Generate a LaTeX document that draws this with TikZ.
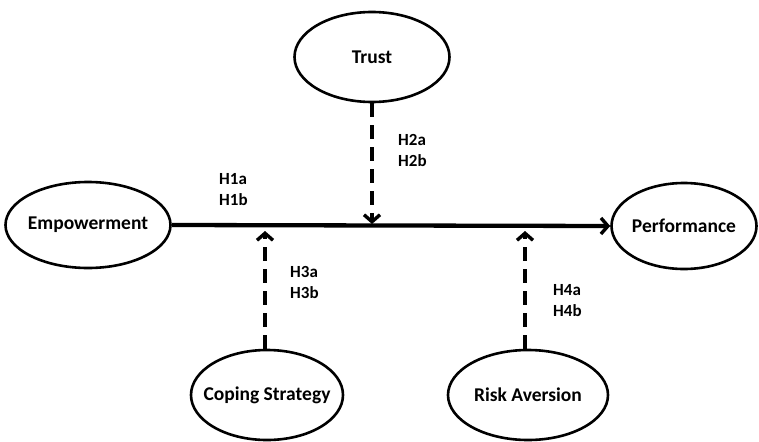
\documentclass[tikz,border=0pt]{standalone}
\usepackage{fontspec}
\setmainfont{Carlito}
\usetikzlibrary{shapes.geometric,arrows.meta}
\begin{document}
\begin{tikzpicture}[x=1pt,y=-1pt,
  construct/.style={draw, line width=2.6pt, ellipse, inner sep=0pt},
  ctext/.style={font=\bfseries\fontsize{19.5}{21}\selectfont, inner sep=0pt},
  hyp/.style={font=\bfseries\fontsize{17}{19}\selectfont, align=left, anchor=north west, inner sep=0pt},
  mainarrow/.style={line width=4.3pt, -{Straight Barb[length=7pt,width=16pt,line width=3.4pt]}},
  modarrow/.style={line width=4.3pt, dash pattern=on 14pt off 8pt, -{Straight Barb[length=7pt,width=16pt,line width=3.4pt]}}
]
\useasboundingbox (0,0) rectangle (759,441);
\node[construct, minimum width=165pt, minimum height=86pt] (emp) at (88,225) {};
\node[construct, minimum width=145pt, minimum height=86pt] (perf) at (684,226) {};
\node[construct, minimum width=155pt, minimum height=90pt] (trust) at (372,57) {};
\node[construct, minimum width=152pt, minimum height=90pt] (cope) at (267,395) {};
\node[construct, minimum width=160pt, minimum height=90pt] (risk) at (528,395) {};

\node[ctext] (empt) at (emp) {Empowerment};
\node[ctext] (perft) at (perf) {Performance};
\node[ctext] (trustt) at (trust) {Trust};
\node[ctext] (copet) at (cope) {Coping Strategy};
\node[ctext] (riskt) at (risk) {Risk Aversion};

\coordinate (tT) at (372,224);
\coordinate (tC) at (265,231);
\coordinate (tR) at (525,231);

\draw[mainarrow] (emp.east) -- (perf.west);
\draw[modarrow] (trust.south) -- (tT);
\draw[modarrow] (cope.north -| tC) -- (tC);
\draw[modarrow] (risk.north -| tR) -- (tR);

\node[hyp] (h1) at (219,173) {H1a\\[2pt]H1b};
\node[hyp] (h2) at (398,134) {H2a\\[2pt]H2b};
\node[hyp] (h3) at (290,266) {H3a\\[2pt]H3b};
\node[hyp] (h4) at (553,284) {H4a\\[2pt]H4b};
\end{tikzpicture}
\end{document}
